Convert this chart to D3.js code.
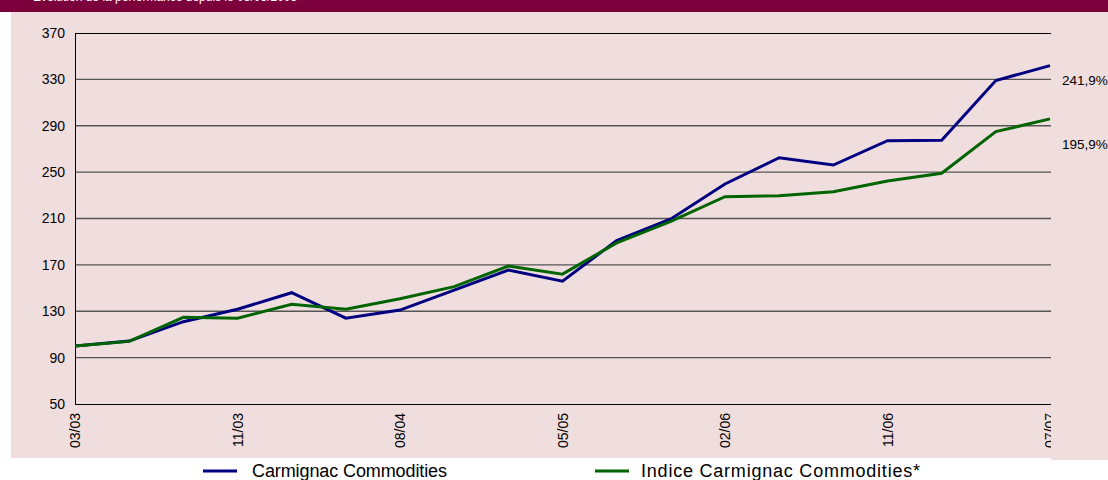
<!DOCTYPE html>
<html>
<head>
<meta charset="utf-8">
<script src="https://cdn.jsdelivr.net/npm/d3@7"></script>
<style>
  body { margin: 0; background: #fff; }
  svg { display: block; font-family: "Liberation Sans", Arial, sans-serif; }
</style>
</head>
<body>
<div id="chart"></div>
<script>
// quarterly points, only every third one gets a label
const periods = ["03/03", "", "", "11/03", "", "", "08/04", "", "", "05/05", "", "", "02/06", "", "", "11/06", "", "", "07/07"];
const fund = [100, 104.3, 121, 131.7, 146, 124, 131, 148.3, 165.6, 156, 190.9, 209.6, 239.8, 262.4, 256.1, 277.1, 277.5, 329, 341.9];
const index = [100, 104, 124.8, 124, 136, 131.7, 140.8, 151.2, 169, 162, 189, 207.5, 228.8, 229.7, 233.1, 242.3, 249, 284.9, 295.9];
const yTicks = [50, 90, 130, 170, 210, 250, 290, 330, 370];
const endLabels = ["241,9%", "195,9%"];
const seriesNames = ["Carmignac Commodities", "Indice Carmignac Commodities*"];
const title = "Evolution de la performance depuis le 03/03/2003";

const W = 1108, H = 480;
const plot = { left: 75, right: 1050, top: 33, bottom: 404 };
const colors = ["#000080", "#006400"];

const svg = d3.select("#chart").append("svg")
  .attr("width", W)
  .attr("height", H);

// header band + panels
svg.append("rect").attr("x", 0).attr("y", 0).attr("width", W).attr("height", 12).attr("fill", "#7b003c");
// title sits mostly above the page edge, as in the original
svg.append("text")
  .attr("x", 33).attr("y", 0.5)
  .style("font-size", "12px")
  .style("fill", "#fff")
  .text(title);
svg.append("rect").attr("x", 11).attr("y", 12).attr("width", 1040).attr("height", 446).attr("fill", "#f0dedf");

const x = d3.scalePoint()
  .domain(d3.range(periods.length))
  .range([plot.left, plot.right]);

const y = d3.scaleLinear()
  .domain([50, 370])
  .range([plot.bottom, plot.top]);

// gridlines
svg.append("g")
  .selectAll("line")
  .data(yTicks.slice(1, -1))
  .join("line")
  .attr("x1", plot.left).attr("x2", plot.right + 1)
  .attr("y1", d => y(d)).attr("y2", d => y(d))
  .attr("stroke", "#555")
  .attr("stroke-width", 1.3);

// frame: top, left, bottom
svg.append("line").attr("x1", plot.left).attr("x2", plot.right + 1).attr("y1", y(370) + 0.5).attr("y2", y(370) + 0.5).attr("stroke", "#000");
svg.append("line").attr("x1", plot.left).attr("x2", plot.right + 1).attr("y1", y(50) + 0.5).attr("y2", y(50) + 0.5).attr("stroke", "#000");
svg.append("line").attr("x1", plot.left + 0.5).attr("x2", plot.left + 0.5).attr("y1", y(370)).attr("y2", y(50)).attr("stroke", "#000");

// y labels
const yAxis = svg.append("g")
  .attr("transform", `translate(${plot.left},0)`)
  .call(d3.axisLeft(y).tickValues(yTicks).tickSize(0).tickPadding(10).tickFormat(d3.format("d")));
yAxis.select(".domain").remove();
yAxis.selectAll("text")
  .style("font-size", "14px")
  .style("font-family", "Liberation Sans, Arial, sans-serif")
  .attr("fill", "#000");

// x labels, rotated
const xAxis = svg.append("g")
  .attr("transform", `translate(0,${plot.bottom})`)
  .call(d3.axisBottom(x)
    .tickValues(d3.range(0, periods.length, 3))
    .tickSize(0)
    .tickFormat(i => periods[i]));
xAxis.select(".domain").remove();
xAxis.selectAll("text")
  .attr("transform", "rotate(-90)")
  .attr("x", -9)
  .attr("y", 0)
  .attr("dy", "0.35em")
  .style("text-anchor", "end")
  .style("font-size", "14px")
  .style("font-family", "Liberation Sans, Arial, sans-serif")
  .attr("fill", "#000");

// lines
const line = d3.line()
  .x((d, i) => x(i))
  .y(d => y(d));

[fund, index].forEach((s, k) => {
  svg.append("path")
    .datum(s)
    .attr("fill", "none")
    .attr("stroke", colors[k])
    .attr("stroke-width", 3)
    .attr("stroke-linejoin", "miter")
    .attr("d", line);
});

// right side panel covers the last label
svg.append("rect").attr("x", 1051).attr("y", 12).attr("width", 57).attr("height", 448).attr("fill", "#f0dedf");

svg.selectAll(".endlab")
  .data([fund[fund.length - 1], index[index.length - 1]])
  .join("text")
  .attr("class", "endlab")
  .attr("x", 1062)
  .attr("y", (d, i) => y(d) + 19 + i * 11)
  .style("font-size", "13.5px")
  .attr("fill", "#000")
  .text((d, i) => endLabels[i]);

// legend
const legendX = [203, 595];
const legendTextX = [252, 641];
const legendLen = [195, 279];
const legend = svg.append("g");
seriesNames.forEach((name, k) => {
  legend.append("line")
    .attr("x1", legendX[k]).attr("x2", legendX[k] + 34)
    .attr("y1", 471).attr("y2", 471)
    .attr("stroke", colors[k])
    .attr("stroke-width", 3);
  legend.append("text")
    .attr("x", legendTextX[k])
    .attr("y", 477)
    .attr("textLength", legendLen[k])
    .attr("lengthAdjust", "spacing")
    .style("font-size", "18px")
    .attr("fill", "#000")
    .text(name);
});
</script>
</body>
</html>
